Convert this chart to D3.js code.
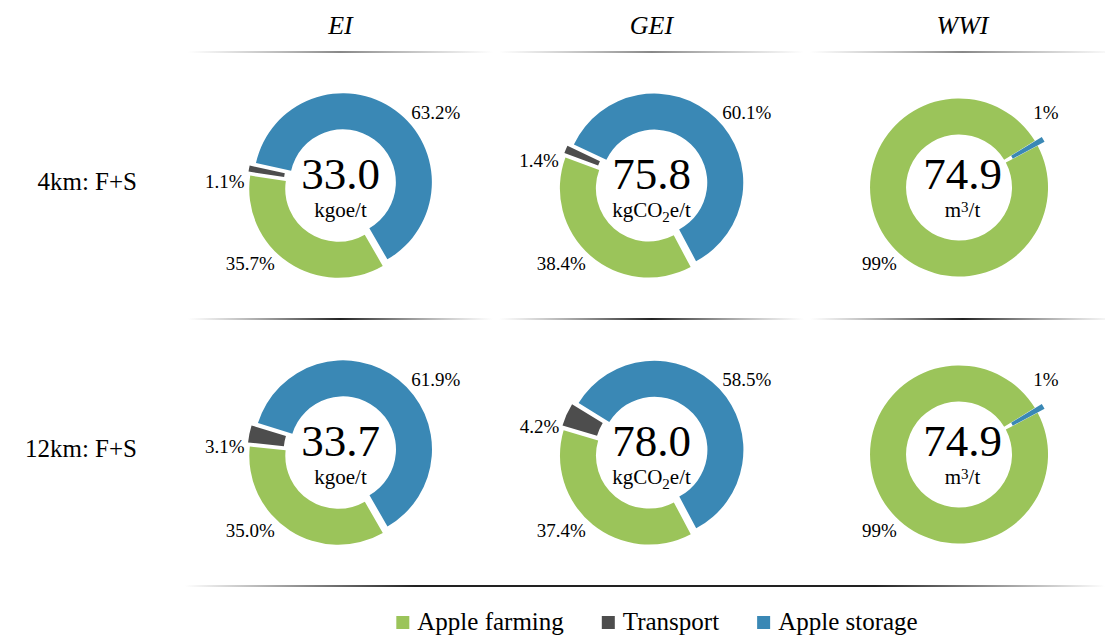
<!DOCTYPE html>
<html>
<head>
<meta charset="utf-8">
<script src="https://cdn.jsdelivr.net/npm/d3@7"></script>
<style>
  body { margin: 0; background: #fff; }
  svg text {
    font-family: "Liberation Serif", "Tinos", "Times New Roman", "Times", "Nimbus Roman", "Nimbus Roman No9 L",
      "FreeSerif", "Noto Serif", "DejaVu Serif", "Bitstream Vera Serif", serif;
    fill: #000;
  }
</style>
</head>
<body>
<div id="chart-area"></div>
<script>
// DATA
const indicators = ["EI", "GEI", "WWI"]
const scenarios = ["4km: F+S", "12km: F+S"]
const stages = ["Apple farming", "Transport", "Apple storage"]

// shares in %, rows = scenarios, cols = indicators
const farming = [[35.7, 38.4, 99], [35.0, 37.4, 99]]
const transport = [[1.1, 1.4, 0], [3.1, 4.2, 0]]
const storage = [[63.2, 60.1, 1], [61.9, 58.5, 1]]
const totals = [[33.0, 75.8, 74.9], [33.7, 78.0, 74.9]]
const decimals = [1, 1, 0]
// unit pieces: [text, shift]  shift 1 = subscript, -1 = superscript
const units = [
  [["kgoe/t", 0]],
  [["kgCO", 0], ["2", 1], ["e/t", 0]],
  [["m", 0], ["3", -1], ["/t", 0]]
]

// STYLE
const colors = { "Apple farming": "#9bc45a", "Transport": "#4d4d4d", "Apple storage": "#3a88b5" }
const startDeg = [150, 152, 62]
const labelDeg = { "Apple farming": 220, "Apple storage": 44 }
const rOuter = 89, rInner = 53, explode = 4, rLabel = 102

const W = 1105, H = 637
const svg = d3.select("#chart-area").append("svg").attr("width", W).attr("height", H)

const x = d3.scaleBand().domain(indicators).range([185, 1118])
const y = d3.scaleBand().domain(scenarios).range([52, 586])
const rad = d => d * Math.PI / 180

// gradients for the separator lines
const defs = svg.append("defs")
function grad(id, stops) {
  const g = defs.append("linearGradient").attr("id", id).attr("x1", "0%").attr("x2", "100%")
  stops.forEach(s => g.append("stop").attr("offset", s[0]).attr("stop-color", s[1]).attr("stop-opacity", s[2]))
}
grad("gTop", [["0%", "#999", 0], ["50%", "#888", 1], ["100%", "#999", 0]])
grad("gMid", [["0%", "#666", 0], ["50%", "#222", 1], ["100%", "#666", 0]])
grad("gBot", [["0%", "#222", 0], ["25%", "#222", 1], ["75%", "#222", 1], ["100%", "#222", 0]])

// header lines and middle line, one segment per column
indicators.forEach(ind => {
  svg.append("rect").attr("x", x(ind) + 3).attr("y", y.range()[0] - 1)
    .attr("width", x.bandwidth() - 6).attr("height", 2).attr("fill", "url(#gTop)")
  svg.append("rect").attr("x", x(ind) + 3).attr("y", y(scenarios[1]) - 1)
    .attr("width", x.bandwidth() - 6).attr("height", 2).attr("fill", "url(#gMid)")
})
svg.append("rect").attr("x", x.range()[0]).attr("y", y.range()[1] - 1)
  .attr("width", W - x.range()[0]).attr("height", 2).attr("fill", "url(#gBot)")

// column headers
svg.selectAll(".head").data(indicators).enter()
  .append("text")
  .attr("x", d => x(d) + x.bandwidth() / 2)
  .attr("y", 34)
  .attr("text-anchor", "middle")
  .style("font-size", "26px")
  .style("font-style", "italic")
  .text(d => d)

// row labels
svg.selectAll(".row").data(scenarios).enter()
  .append("text")
  .attr("x", 137)
  .attr("y", d => y(d) + y.bandwidth() / 2 + 4)
  .attr("text-anchor", "end")
  .style("font-size", "25px")
  .text(d => d)

const arc = d3.arc().innerRadius(rInner).outerRadius(rOuter)

scenarios.forEach((sc, i) => {
  indicators.forEach((ind, j) => {
    const cx = x(ind) + x.bandwidth() / 2
    const cy = y(sc) + y.bandwidth() / 2
    const vals = [farming[i][j], transport[i][j], storage[i][j]]
    const pie = d3.pie().sort(null).value(d => d.v)
      .startAngle(rad(startDeg[j])).endAngle(rad(startDeg[j]) + 2 * Math.PI)
    const slices = pie(stages.map((s, k) => ({ s: s, v: vals[k] })))

    const g = svg.append("g").attr("transform", `translate(${cx},${cy})`)

    g.selectAll("path").data(slices.filter(d => d.data.v > 0)).enter()
      .append("path")
      .attr("d", arc)
      .attr("fill", d => colors[d.data.s])
      .attr("transform", d => {
        const m = (d.startAngle + d.endAngle) / 2
        return `translate(${Math.sin(m) * explode},${-Math.cos(m) * explode})`
      })

    const fmt = d3.format("." + decimals[j] + "f")
    g.selectAll(".lbl").data(slices.filter(d => d.data.v > 0)).enter()
      .append("text")
      .each(function (d) {
        const fixed = labelDeg[d.data.s] !== undefined
        const a = fixed ? rad(labelDeg[d.data.s]) : (d.startAngle + d.endAngle) / 2 - rad(8)
        const r = fixed ? rLabel : rLabel - 6
        d3.select(this)
          .attr("x", Math.sin(a) * r)
          .attr("y", -Math.cos(a) * r)
          .attr("dy", "0.35em")
          .attr("text-anchor", Math.sin(a) >= 0 ? "start" : "end")
      })
      .style("font-size", "19px")
      .text(d => fmt(d.data.v) + "%")

    g.append("text")
      .attr("y", 3)
      .attr("text-anchor", "middle")
      .style("font-size", "45px")
      .text(totals[i][j].toFixed(1))

    const u = g.append("text")
      .attr("y", 31)
      .attr("text-anchor", "middle")
      .style("font-size", "21px")
    let prev = 0
    units[j].forEach(p => {
      const t = u.append("tspan").text(p[0])
      if (p[1] !== 0) t.style("font-size", "15px")
      const shift = p[1] * 5 - prev * 5
      if (shift !== 0) t.attr("dy", shift)
      prev = p[1]
    })
  })
})

// legend
const leg = svg.append("g")
let lx = 0
stages.forEach(s => {
  const it = leg.append("g").attr("transform", `translate(${lx},0)`)
  it.append("rect").attr("x", 0).attr("y", -14).attr("width", 13).attr("height", 13).attr("fill", colors[s])
  const t = it.append("text").attr("x", 21).attr("y", 0).style("font-size", "25px").text(s)
  lx += 21 + t.node().getComputedTextLength() + 38
})
lx -= 38
leg.attr("transform", `translate(${657 - lx / 2},630)`)
</script>
</body>
</html>
